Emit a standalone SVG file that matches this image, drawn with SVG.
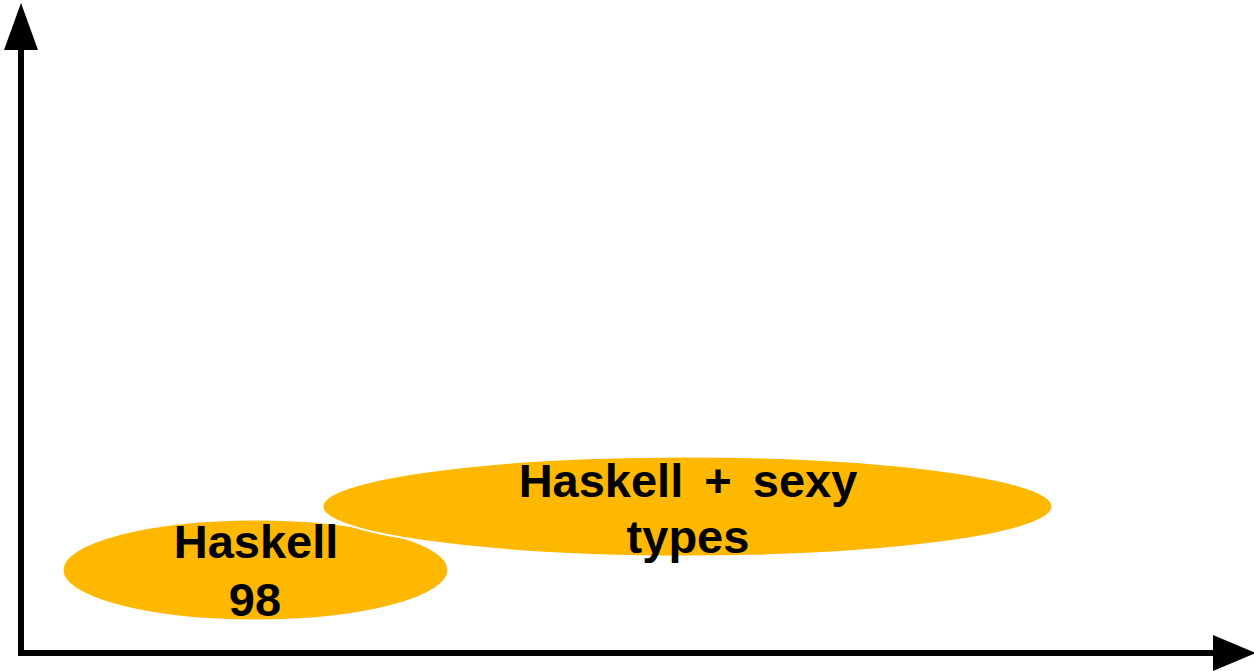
<svg xmlns="http://www.w3.org/2000/svg" width="1254" height="671" viewBox="0 0 1254 671">
  <style>
    .blob { fill: #FFB800; stroke: #FFFFFF; stroke-width: 2; }
    .label { font-family: "Comic Sans MS", "Liberation Sans", sans-serif; font-weight: bold; font-size: 47px; fill: #000000; text-anchor: middle; }
    .axis { stroke: #000000; stroke-width: 6; fill: none; }
    .head { fill: #000000; }
  </style>
  <rect width="1254" height="671" fill="#FFFFFF"/>

  <!-- axes -->
  <g id="connectors">
    <polyline class="axis" points="21,48 21,653 1216,653"/>
    <polygon class="head" points="21,3 4,50 38,50"/>
    <polygon class="head" points="1213,635 1256,653 1213,671"/>
  </g>

  <g id="haskell98">
    <ellipse class="blob" cx="255.5" cy="570" rx="193" ry="50.5"/>
  </g>

  <g id="haskell-sexy-types">
    <ellipse class="blob" cx="687.5" cy="506.5" rx="365" ry="50"/>
    <text class="label" x="688" y="497" word-spacing="8">Haskell + sexy</text>
    <text class="label" x="688" y="553">types</text>
  </g>

  <g id="haskell98-label">
    <text class="label" x="256" y="558">Haskell</text>
    <text class="label" x="255" y="616">98</text>
  </g>
</svg>
